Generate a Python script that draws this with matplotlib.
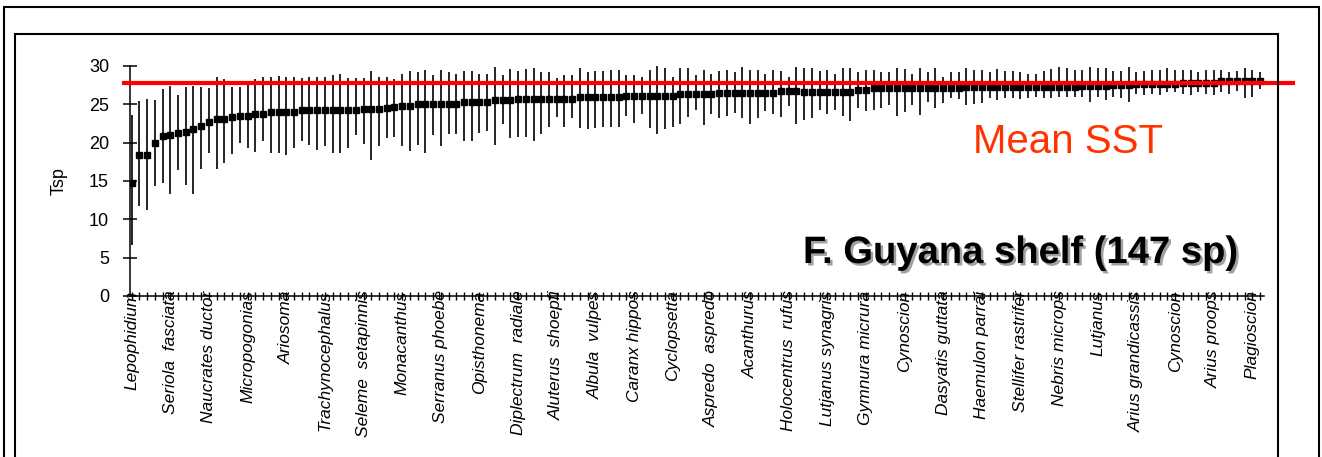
import numpy as np
import matplotlib.pyplot as plt
import matplotlib.patheffects as pe
from matplotlib.patches import Rectangle

plt.rcParams['font.family'] = ['Liberation Sans', 'DejaVu Sans']

# mean preferred temperature per species (sorted), with low / high range
tsp_mean = [14.7, 18.4, 18.4, 19.9, 20.9, 21.0, 21.2, 21.4, 21.8, 22.2,
            22.7, 23.1, 23.1, 23.3, 23.5, 23.5, 23.8, 23.8, 24.0, 24.0,
            24.0, 24.0, 24.3, 24.3, 24.3, 24.3, 24.3, 24.3, 24.3, 24.2,
            24.4, 24.4, 24.4, 24.5, 24.6, 24.8, 24.8, 25.0, 25.0, 25.0,
            25.1, 25.1, 25.1, 25.3, 25.3, 25.3, 25.3, 25.5, 25.5, 25.5,
            25.7, 25.7, 25.7, 25.7, 25.7, 25.7, 25.7, 25.7, 25.9, 25.9,
            25.9, 25.9, 25.9, 25.9, 26.1, 26.1, 26.1, 26.1, 26.1, 26.1,
            26.1, 26.3, 26.3, 26.3, 26.3, 26.3, 26.5, 26.5, 26.5, 26.5,
            26.5, 26.5, 26.5, 26.5, 26.7, 26.7, 26.7, 26.6, 26.6, 26.6,
            26.6, 26.6, 26.6, 26.6, 26.9, 26.9, 27.1, 27.1, 27.1, 27.1,
            27.1, 27.1, 27.1, 27.1, 27.1, 27.1, 27.1, 27.1, 27.2, 27.2,
            27.2, 27.2, 27.2, 27.2, 27.2, 27.2, 27.3, 27.3, 27.3, 27.3,
            27.3, 27.3, 27.3, 27.4, 27.4, 27.4, 27.4, 27.5, 27.5, 27.5,
            27.6, 27.6, 27.6, 27.6, 27.6, 27.6, 27.8, 27.8, 27.8, 27.8,
            27.8, 28.1, 28.1, 28.1, 28.1, 28.1, 28.1]

tsp_high = [23.6, 25.4, 25.7, 25.6, 27.0, 27.4, 26.2, 27.3, 27.4, 27.2,
            27.1, 28.6, 28.3, 27.3, 27.2, 28.1, 28.3, 28.5, 28.5, 28.7,
            28.5, 28.5, 28.4, 28.6, 28.6, 28.6, 28.8, 29.0, 28.4, 28.4,
            28.4, 29.3, 28.6, 28.6, 28.3, 29.0, 29.3, 29.2, 29.5, 28.8,
            29.5, 29.2, 29.0, 29.3, 29.3, 29.0, 29.0, 29.9, 28.8, 29.6,
            29.3, 29.6, 29.7, 29.2, 29.2, 28.4, 28.8, 28.8, 29.7, 29.2,
            29.3, 29.3, 29.5, 29.5, 28.8, 28.8, 28.6, 29.5, 30.1, 29.7,
            28.6, 29.7, 29.7, 28.8, 29.5, 29.0, 29.3, 29.5, 29.2, 29.9,
            29.5, 29.5, 29.0, 29.5, 29.3, 28.6, 29.9, 29.7, 29.7, 29.3,
            29.5, 29.0, 29.7, 29.7, 29.2, 29.5, 29.5, 29.2, 29.2, 29.7,
            29.6, 29.0, 29.7, 29.2, 29.7, 28.6, 29.2, 29.2, 29.7, 29.5,
            29.5, 29.2, 29.6, 29.3, 29.3, 29.2, 29.0, 29.0, 29.3, 29.6,
            29.9, 29.7, 29.5, 29.5, 29.9, 29.7, 29.7, 29.3, 29.3, 29.9,
            29.2, 29.3, 29.5, 29.5, 29.7, 29.5, 29.5, 29.5, 29.2, 29.5,
            29.5, 29.5, 29.2, 29.3, 29.7, 29.5, 29.2]

tsp_low = [6.6, 11.8, 11.2, 14.3, 14.8, 13.3, 16.4, 14.5, 13.3, 16.5,
           18.7, 16.6, 17.4, 18.5, 20.0, 19.3, 18.8, 20.2, 18.7, 18.7,
           18.4, 19.3, 20.2, 19.7, 19.1, 19.5, 18.7, 18.7, 19.3, 21.0,
           19.8, 17.8, 19.6, 20.6, 20.8, 19.5, 18.9, 19.7, 18.7, 21.0,
           19.5, 21.1, 21.1, 20.2, 20.2, 21.3, 21.5, 19.7, 22.4, 20.6,
           20.8, 20.8, 20.2, 21.1, 22.1, 23.4, 22.1, 23.2, 21.9, 21.8,
           21.9, 22.0, 22.1, 22.0, 23.5, 22.6, 23.7, 21.9, 21.1, 21.8,
           22.1, 22.4, 23.4, 24.3, 22.3, 23.7, 23.2, 23.5, 23.9, 23.2,
           22.4, 23.2, 24.1, 23.7, 23.4, 24.8, 22.4, 23.0, 23.2, 24.3,
           23.7, 24.3, 23.5, 22.8, 24.5, 24.1, 24.3, 24.5, 24.9, 23.5,
           24.0, 24.9, 23.6, 25.3, 24.5, 25.2, 25.8, 25.7, 24.9, 25.1,
           25.2, 25.8, 25.6, 25.8, 25.8, 25.7, 25.8, 26.0, 25.8, 25.8,
           26.0, 26.0, 26.0, 25.9, 25.3, 25.9, 25.6, 26.0, 25.8, 25.3,
           26.4, 26.2, 26.4, 26.2, 26.6, 26.6, 26.4, 26.2, 26.6, 26.4,
           26.2, 26.6, 26.4, 26.7, 25.8, 26.0, 27.0]

# only every 5th species is labelled on the axis
label_names = ['Lepophidium', 'Seriola  fasciata', 'Naucrates ductor',
               'Micropogonias', 'Ariosoma', 'Trachynocephalus',
               'Seleme  setapinnis', 'Monacanthus', 'Serranus phoebe',
               'Opisthonema', 'Diplectrum  radiale', 'Aluterus  shoepfi',
               'Albula  vulpes', 'Caranx hippos', 'Cyclopsetta',
               'Aspredo  aspredo', 'Acanthurus', 'Holocentrus  rufus',
               'Lutjanus synagris', 'Gymnura micrura', 'Cynoscion',
               'Dasyatis guttata', 'Haemulon parrai', 'Stellifer rastrifer',
               'Nebris microps', 'Lutjanus', 'Arius grandicassis',
               'Cynoscion', 'Arius proops', 'Plagioscion']
label_step = 5

mean_sst = 27.8

n = len(tsp_mean)
x = np.arange(n)
labels = [''] * n
for k, name in enumerate(label_names):
    labels[k * label_step] = name

fig = plt.figure(figsize=(13.22, 4.57), dpi=100)
ax = fig.add_axes([0.0983, 0.3523, 0.8578, 0.5033])

# range bars + mean squares
ax.vlines(x, tsp_low, tsp_high, color='black', lw=1.2, zorder=2)
ax.plot(x, tsp_mean, 's', color='black', ms=4.3, zorder=3)

# mean sea surface temperature
ax.axhline(mean_sst, xmin=-0.005, xmax=1.026, color='#ff0000', lw=3,
           clip_on=False, zorder=5)

ax.set_xlim(-0.22, 146.5)
ax.set_ylim(0, 30)
ax.set_yticks(range(0, 31, 5))
ax.set_xticks(x)
ax.set_xticklabels(labels, rotation=90, fontstyle='italic', fontsize=12.5)

for s in ['top', 'right']:
    ax.spines[s].set_visible(False)
for s in ['left', 'bottom']:
    ax.spines[s].set_linewidth(1.1)

ax.tick_params(axis='y', direction='inout', length=10, width=1.1,
               labelsize=13, pad=10)
ax.tick_params(axis='x', direction='inout', length=6, width=1.0, pad=-7)

ax.set_ylabel('Tsp', fontsize=13)
ax.yaxis.set_label_coords(-0.0547, 0.5)

fig.text(0.808, 0.665, 'Mean SST', color='#ff3300', fontsize=29,
         ha='center', va='baseline')
fig.text(0.6074, 0.4245, 'F. Guyana shelf (147 sp)', fontsize=27.5,
         fontweight='bold', ha='left', va='baseline',
         path_effects=[pe.SimplePatchShadow(offset=(1.8, -1.8),
                                            shadow_rgbFace='#888888',
                                            alpha=0.8),
                       pe.Normal()])

# the two frames around the chart
fig.add_artist(Rectangle((4 / 1322, -0.1), 1315 / 1322, 1.0847,
                         transform=fig.transFigure, fill=False,
                         lw=1.5, ec='black'))
fig.add_artist(Rectangle((15 / 1322, -0.1), 1263 / 1322, 1.0256,
                         transform=fig.transFigure, fill=False,
                         lw=1.5, ec='black'))

fig.savefig('out.png', dpi=100)
